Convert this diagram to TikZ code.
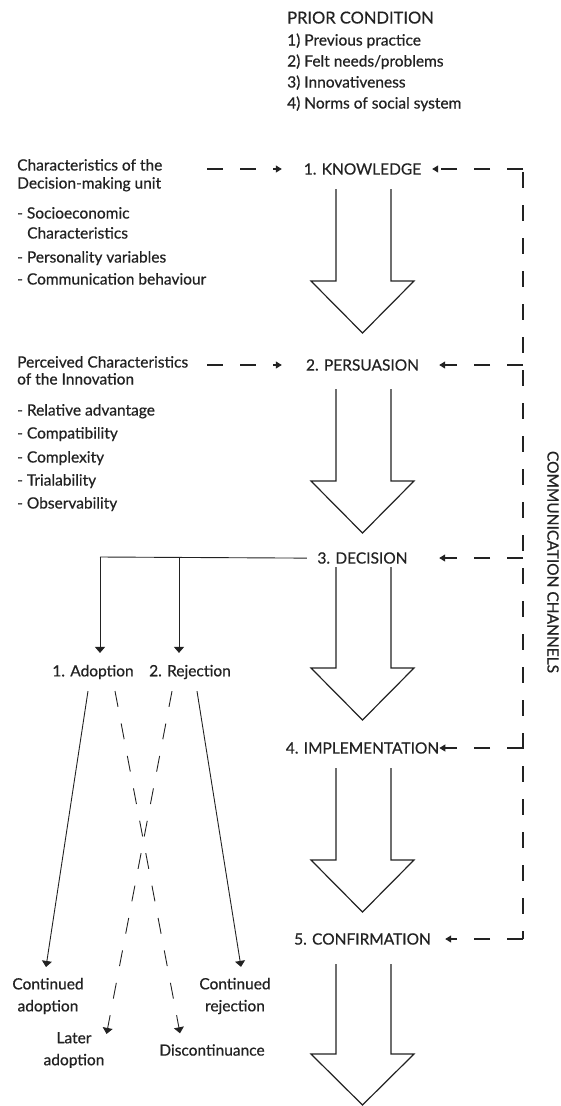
\documentclass[tikz,border=0pt]{standalone}
\usepackage{fontspec}
\setmainfont{Lato}[FakeBold=0.6]
\usetikzlibrary{arrows.meta,calc}
\definecolor{ink}{HTML}{222222}

% open-topped block arrow between two stages: shaft top, head base, tip
\newcommand\stagearrow[3]{%
  \draw[blockarrow] (336,#1) -- (336,#2) -- (311,#2) -- (362.5,#3)
    -- (414,#2) -- (391,#2) -- (391,#1);}

\begin{document}
\begin{tikzpicture}[x=1pt,y=-1pt,
  every node/.style={text=ink,font=\fontsize{15.5}{18}\selectfont,inner sep=0pt},
  txt/.style={anchor=base west},
  stage/.style={anchor=center,minimum width=153pt},
  opt/.style={align=center,outer ysep=12pt},
  outcome/.style={align=center,font=\fontsize{15.5}{22}\selectfont},
  chan/.style={draw=ink,line width=1.1pt,dash pattern=on 16pt off 17pt},
  tipS/.style={-{Triangle[width=7pt,length=6pt]}},
  tipB/.style={-{Triangle[width=10pt,length=6pt]}},
  flow/.style={draw=ink,line width=0.9pt},
  blockarrow/.style={draw=ink,line width=1.2pt,line join=miter}
]
\useasboundingbox (0,0) rectangle (560,1106);

% prior conditions
\node[txt] (pc0) at (287,23.5) {\fontsize{16.5}{18}\selectfont PRIOR CONDITION};
\node[txt] (pc1) at (287,45.5) {1) Previous practice};
\node[txt] (pc2) at (287,66.5) {2) Felt needs/problems};
\node[txt] (pc3) at (287,87.5) {3) Innovativeness};
\node[txt] (pc4) at (287,108.5) {4) Norms of social system};

% characteristics of the decision-making unit
\node[txt] (d1) at (17,170.5) {Characteristics of the};
\node[txt] (d2) at (17,188.5) {Decision-making unit};
\node[txt] (d3) at (17,218.5) {- Socioeconomic};
\node[txt] (d4) at (27,238.5) {Characteristics};
\node[txt] (d5) at (17,262.5) {- Personality variables};
\node[txt] (d6) at (17,284.5) {- Communication behaviour};

% perceived characteristics of the innovation
\node[txt] (p1) at (17,367.5) {Perceived Characteristics};
\node[txt] (p2) at (17,384.5) {of the Innovation};
\node[txt] (p3) at (17,415.5) {- Relative advantage};
\node[txt] (p4) at (17,438.5) {- Compatibility};
\node[txt] (p5) at (17,462.5) {- Complexity};
\node[txt] (p6) at (17,485.5) {- Trialability};
\node[txt] (p7) at (17,508.5) {- Observability};

% stages
\node[stage] (kn) at (362.5,169) {1. KNOWLEDGE};
\node[stage] (pe) at (362.5,365) {2. PERSUASION};
\node[stage] (de) at (362.5,558) {3. DECISION};
\node[stage] (im) at (362.5,748) {4. IMPLEMENTATION};
\node[stage] (co) at (362.5,939) {5. CONFIRMATION};

\stagearrow{189}{281}{333}
\stagearrow{389}{481}{533}
\stagearrow{567}{668}{720}
\stagearrow{768}{860}{912}
\stagearrow{964}{1054}{1105}

% inputs from the left
\coordinate (dmu) at (207,169);
\coordinate (inn) at (207,365);
\draw[chan,tipS,shorten >=4pt] (dmu) -- (kn.west);
\draw[chan,tipS,shorten >=4pt] (inn) -- (pe.west);

% communication channels
\coordinate (ch1) at (523,169);
\coordinate (ch2) at (523,365);
\coordinate (ch3) at (523,558);
\coordinate (ch4) at (523,748);
\coordinate (ch5) at (523,939);
\draw[chan,dash phase=-3pt] (ch1) -- (ch5);
\draw[chan,tipS,shorten >=-7pt] (ch1) -- (kn.east);
\draw[chan,tipS] (ch2) -- (pe.east);
\draw[chan,tipS] (ch3) -- (de.east);
\draw[chan,tipS] (ch4) -- (im.east);
\draw[chan,tipS,shorten >=6pt] (ch5) -- (co.east);
\node[rotate=-90] (cc) at (553,562) {COMMUNICATION CHANNELS};

% decision outcomes
\node[opt] (ado) at (93,672) {1. Adoption};
\node[opt] (rej) at (190,672) {2. Rejection};
\coordinate (brA) at (100,557);
\coordinate (brR) at (179,557);
\draw[flow,shorten <=-21pt] (de.west) -- (brA);
\draw[flow,tipB] (brA) -- (brA |- ado.north);
\draw[flow,tipB] (brR) -- (brR |- rej.north);

\node[outcome,outer ysep=11pt] (cad) at (48,996) {Continued\\adoption};
\node[outcome,outer ysep=11pt] (crj) at (235,996) {Continued\\rejection};
\node[outcome] (lad) at (74,1050) {Later\\adoption};
\node[outcome,outer ysep=11pt] (dis) at (212,1050) {Discontinuance};

\draw[flow,tipB] ($(ado.south)+(-5,0)$) -- ($(cad.north)+(-2,0)$);
\draw[flow,tipB] ($(rej.south)+(7,0)$) -- ($(crj.north)+(6,0)$);
\draw[chan,line width=0.9pt,tipB] ($(ado.south)+(22,0)$) -- ($(dis.north)+(-32,0)$);
\draw[chan,line width=0.9pt,tipB] ($(rej.south)+(-18,0)$) -- ($(lad.north east)+(2,2)$);
\end{tikzpicture}
\end{document}
